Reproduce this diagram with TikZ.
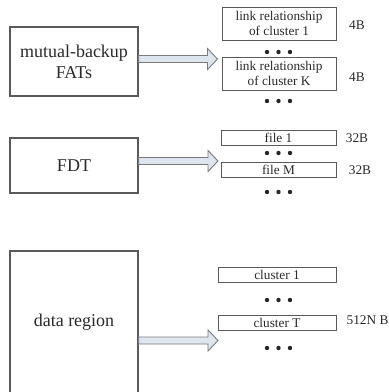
\documentclass[tikz,border=0pt]{standalone}
\usepackage{fontspec}
\setmainfont{Liberation Serif}
\usetikzlibrary{calc}
\definecolor{boxline}{HTML}{5A5A5A}
\definecolor{txt}{HTML}{2A2A2A}
\definecolor{arrfill}{HTML}{DDE5EF}
\definecolor{arrline}{HTML}{7A7A7A}
\tikzset{
  bigbox/.style={draw=boxline, line width=1.1pt, inner sep=0pt, text=txt, align=center,
    font=\fontsize{18}{21}\selectfont},
  smallbox/.style={draw=boxline, line width=1pt, inner sep=0pt, text=txt, align=center,
    minimum width=114pt, font=\fontsize{13.3}{15.5}\selectfont},
  sizelabel/.style={inner sep=0pt, text=txt, font=\fontsize{13.3}{15.5}\selectfont},
  blockarr/.style={draw=arrline, fill=arrfill, line width=0.9pt, line join=miter},
}
\newcommand\dotrow[1]{%
  \fill[black!85] (267,#1) circle (2.2) (278.5,#1) circle (2.2) (290,#1) circle (2.2);}
\newcommand\blockarrow[2]{%
  \draw[blockarr] ([yshift=3.5pt]#1) -- ([xshift=-10pt,yshift=3.5pt]#2)
    -- ([xshift=-10pt,yshift=10.5pt]#2) -- (#2) -- ([xshift=-10pt,yshift=-10.5pt]#2)
    -- ([xshift=-10pt,yshift=-3.5pt]#2) -- ([yshift=-3.5pt]#1) -- cycle;}
\begin{document}
\begin{tikzpicture}[x=1pt,y=-1pt]
\useasboundingbox (0,0) rectangle (389,392);
\clip (0,0) rectangle (389,392);
\fill[white] (0,0) rectangle (389,392);

% left boxes
\node[bigbox, minimum width=128pt, minimum height=69pt] (fat) at (74,61.5) {mutual-backup\\FATs};
\node[bigbox, minimum width=128pt, minimum height=55pt] (fdt) at (74,165.5) {FDT};
\node[bigbox, minimum width=128pt, minimum height=180pt] (data) at (74,341) {};
\node[text=txt, font=\fontsize{18}{21}\selectfont, inner sep=0pt] (datalbl) at (74,322) {data region};

% right boxes
\node[smallbox, minimum height=33pt] (lr1) at (279,23.5) {link relationship\\of cluster 1};
\node[smallbox, minimum height=33pt] (lrk) at (279,73.5) {link relationship\\of cluster K};
\node[smallbox, minimum width=115pt, minimum height=15pt] (f1) at (278.5,137.5) {file 1};
\node[smallbox, minimum width=115pt, minimum height=15pt] (fm) at (278.5,169.5) {file M};
\node[smallbox, minimum width=118pt, minimum height=15pt] (c1) at (277,274.5) {cluster 1};
\node[smallbox, minimum width=118pt, minimum height=15pt] (ct) at (277,322.5) {cluster T};

% dots
\dotrow{52}
\dotrow{101}
\dotrow{153}
\dotrow{192}
\dotrow{300}
\dotrow{348}

% size labels
\node[sizelabel] (s1) at (357,25) {4B};
\node[sizelabel] (s2) at (357,77) {4B};
\node[sizelabel] (s3) at (357,138) {32B};
\node[sizelabel] (s4) at (360,170) {32B};
\node[sizelabel] (s5) at (367.5,320) {512N B};

% arrows
\path (fat.east) ++(0,-2.5) coordinate (a1s);
\path (a1s -| lrk.west) ++(-4,0) coordinate (a1e);
\blockarrow{a1s}{a1e}
\path (fdt.east) ++(0,-4.5) coordinate (a2s);
\path (a2s -| fm.west) ++(-2.5,0) coordinate (a2e);
\blockarrow{a2s}{a2e}
\path (data.east |- 0,340.5) coordinate (a3s);
\path (a3s -| ct.west) ++(0.5,0) coordinate (a3e);
\blockarrow{a3s}{a3e}
\end{tikzpicture}
\end{document}
